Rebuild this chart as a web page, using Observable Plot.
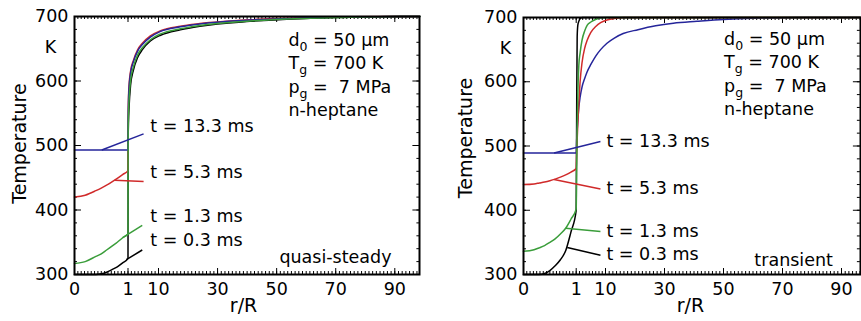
<!DOCTYPE html>
<html><head><meta charset="utf-8">
<script src="https://cdn.jsdelivr.net/npm/d3@7"></script>
<script src="https://cdn.jsdelivr.net/npm/@observablehq/plot@0.6"></script>
<style>
body{margin:0;background:#fff;}
#wrap{display:flex;width:861px;height:321px;overflow:hidden;}
</style></head><body><div id="wrap"></div>
<script>
// ---------- shared ----------
const seriesNames = ["t = 0.3 ms", "t = 1.3 ms", "t = 5.3 ms", "t = 13.3 ms"];
const seriesColors = ["#000000", "#3a9d3a", "#d02a2a", "#25259a"];
const xTickValues = [0, 1, 10, 30, 50, 70, 90];
const yTickValues = [300, 400, 500, 600, 700];
const paramLabels = ["d_0 = 50 µm", "T_g = 700 K", "p_g = \u00a07 MPa", "n-heptane"];

// ---------- quasi-steady panel (left) ----------
const qsRin = [0, 0.2, 0.4, 0.5, 0.6, 0.7, 0.8, 0.9, 1];
const qsTinBlack = [300, 300, 300, 301, 303.5, 307.5, 312, 318, 325];
const qsTinGreen = [317, 320, 328, 332, 338, 344, 350, 357, 363];
const qsTinRed   = [420, 423, 430, 434, 438.5, 443.5, 449, 455, 461];
const qsTinBlue  = [493, 493, 493, 493, 493, 493, 493, 493, 493];
const qsRout = [1.05, 1.15, 1.3, 1.75, 2.6, 3.8, 5.3, 7.6, 10.7, 17.4, 24, 41, 58, 75, 92, 98.5];
const qsToutBlack = [510, 538, 558, 593, 617, 636, 649, 662, 671, 679.5, 685, 692.5, 696.7, 699, 700, 700];
const qsToutGreen = [520, 550, 570, 601, 622, 640, 652, 664, 673, 681, 686, 693, 697, 699, 700, 700];
const qsToutRed   = [545, 575, 592, 615, 632, 648, 659, 670, 678, 685, 689, 695, 698, 699.5, 700, 700];
const qsToutBlue  = [540, 570, 588, 612, 630, 646, 657, 668, 677, 684, 688.5, 694.5, 697.8, 699.3, 700, 700];
const qsLeadR1 = [0.97, 0.9, 0.75, 0.51];
const qsLeadT1 = [323, 357, 446, 493];
const qsLeadR2 = [5.2, 5.2, 5.6, 5.6];
const qsLeadT2 = [338, 376, 444, 518];
const qsLabelR = [7.6, 7.6, 7.6, 7.6];
const qsLabelT = [353, 390, 458, 529.5];

// ---------- transient panel (right) ----------
const trRin = [0, 0.2, 0.3, 0.4, 0.5, 0.6, 0.7, 0.8, 0.9, 1];
const trTinBlack = [300, 300, 300, 301.5, 306, 313.5, 323, 337, 366, 400];
const trTinGreen = [336, 338.5, 341.5, 345, 350, 355.5, 363, 372, 386, 402];
const trTinRed   = [440, 441, 442.5, 444, 446, 448.5, 451.5, 455, 459.5, 465];
const trTinBlue  = [489, 489, 489, 489, 489, 489, 489, 489, 489, 489];
const trRout = [1.15, 1.3, 1.5, 1.8, 2.2, 2.8, 3.6, 4.4, 5.5, 7, 8.5, 10.5, 13, 16, 21, 27, 33, 41, 50, 60, 75, 96.4];
const trToutBlack = [560, 670, 688, 694, 698, 700, 700, 700, 700, 700, 700, 700, 700, 700, 700, 700, 700, 700, 700, 700, 700, 700];
const trToutGreen = [470, 530, 580, 625, 645, 665, 679, 688, 693, 697, 699.5, 700, 700, 700, 700, 700, 700, 700, 700, 700, 700, 700];
const trToutRed   = [490, 510, 535, 565, 600, 630, 652, 665, 677, 686, 692, 696, 698.5, 700, 700, 700, 700, 700, 700, 700, 700, 700];
const trToutBlue  = [510, 525, 540, 560, 576, 592, 605, 616, 627, 640, 650, 660, 668, 675, 681, 687, 691, 694, 697, 699, 700, 700];
const trLeadR1 = [0.83, 0.8, 0.58, 0.58];
const trLeadT1 = [342, 372, 448, 489];
const trLeadR2 = [8.45, 8.45, 8.45, 8.45];
const trLeadT2 = [330, 367, 433, 507];
const trLabelR = [10.3, 10.3, 10.3, 10.3];
const trLabelT = [331, 367, 434, 507];

// ---------- build ----------
function buildRows(rin, tins, rout, touts, order) {
  const rows = [];
  for (const s of order) {
    rin.forEach((r, i) => rows.push({s, r, T: tins[s][i]}));
    rout.forEach((r, i) => rows.push({s, r, T: touts[s][i]}));
  }
  return rows;
}

function addSubscripts(svg) {
  svg.querySelectorAll("text").forEach(t => {
    const s = t.textContent;
    const m = s.match(/^(.*?)_(.)(.*)$/);
    if (!m) return;
    t.textContent = "";
    const mk = (txt, attrs) => {
      const ts = document.createElementNS("http://www.w3.org/2000/svg", "tspan");
      ts.textContent = txt;
      for (const k in attrs) ts.setAttribute(k, attrs[k]);
      t.appendChild(ts);
    };
    mk(m[1], {});
    mk(m[2], {dy: "5", "font-size": "12.5px"});
    mk(m[3], {dy: "-5"});
  });
}

function panel(cfg) {
  const rows = buildRows(cfg.rin, cfg.tins, cfg.rout, cfg.touts, cfg.order);
  const idx = [0, 1, 2, 3];
  const xMinor = [...d3.range(0, 1, 1 / 16), ...d3.range(1, 10, 1), ...d3.range(10, cfg.xMax, 1.25)];
  const yMinor = d3.range(300, 701, 20);
  const yPx = 258 / 400; // px per K (for tick lengths)
  const svg = Plot.plot({
    width: cfg.width, height: 321,
    marginLeft: cfg.mL, marginRight: cfg.mR, marginTop: cfg.mT, marginBottom: 47,
    style: {fontFamily: "'DejaVu Sans', sans-serif", fontSize: "17.5px", color: "black", background: "white", overflow: "visible"},
    x: {type: "linear", domain: [0, 1, 10, 90], range: cfg.xRange},
    y: {domain: [300, 700], range: [274, cfg.mT]},
    color: {domain: idx, range: seriesColors},
    marks: [
      // minor/major ticks (inward) on all four sides
      Plot.ruleX(xMinor, {x: d => d, y1: 300, y2: 300 + 3 / yPx, stroke: "black", strokeWidth: 1}),
      Plot.ruleX(xMinor, {x: d => d, y1: 700, y2: 700 - 3 / yPx, stroke: "black", strokeWidth: 1}),
      Plot.ruleX(xTickValues, {x: d => d, y1: 300, y2: 300 + 6 / yPx, stroke: "black", strokeWidth: 1}),
      Plot.ruleX(xTickValues, {x: d => d, y1: 700, y2: 700 - 6 / yPx, stroke: "black", strokeWidth: 1}),
      Plot.ruleY(yMinor, {y: d => d, x1: 0, x2: 3 / cfg.inPx, stroke: "black", strokeWidth: 1}),
      Plot.ruleY(yTickValues, {y: d => d, x1: 0, x2: 7 / cfg.inPx, stroke: "black", strokeWidth: 1}),
      Plot.ruleY(yMinor, {y: d => d, x1: cfg.xMax - 3 / 2.95, x2: cfg.xMax, stroke: "black", strokeWidth: 1}),
      Plot.ruleY(yTickValues, {y: d => d, x1: cfg.xMax - 7 / 2.95, x2: cfg.xMax, stroke: "black", strokeWidth: 1}),
      // curves
      Plot.line(rows, {x: "r", y: "T", z: "s", stroke: d => d.s, strokeWidth: 1.5, strokeLinejoin: "round", curve: "monotone-x", sort: null}),
      // leader lines
      Plot.link(idx, {x1: i => cfg.leadR1[i], y1: i => cfg.leadT1[i], x2: i => cfg.leadR2[i], y2: i => cfg.leadT2[i], stroke: i => i, strokeWidth: 1.5}),
      // series labels
      Plot.text(idx, {x: i => cfg.labelR[i], y: i => cfg.labelT[i], text: i => seriesNames[i], textAnchor: "start", lineAnchor: "middle"}),
      // parameter block
      Plot.text([0, 1, 2, 3], {x: () => cfg.paramR, y: i => cfg.paramT[i], text: i => paramLabels[i], textAnchor: "start", lineAnchor: "middle"}),
      Plot.text([cfg.corner], {x: cfg.cornerR, y: cfg.cornerT, text: d => d, textAnchor: "end", lineAnchor: "middle"}),
      Plot.text(["K"], {x: cfg.kR, y: 652, text: d => d, textAnchor: "middle", lineAnchor: "middle"}),
      Plot.text(["Temperature"], {x: cfg.tempR, y: cfg.tempT, text: d => d, rotate: -90, textAnchor: "middle", lineAnchor: "middle", fontSize: 19}),
      Plot.text(["r/R"], {x: 38.8, y: 251, text: d => d, textAnchor: "middle", lineAnchor: "middle", fontSize: 19}),
      Plot.frame({stroke: "black", strokeWidth: 2}),
      Plot.axisX({ticks: xTickValues, tickSize: 0, tickPadding: 8, label: null, tickFormat: d => String(d)}),
      Plot.axisY({ticks: yTickValues, tickSize: 0, tickPadding: 6, label: null, tickFormat: d => String(d)})
    ]
  });
  addSubscripts(svg);
  return svg;
}

const wrap = document.getElementById("wrap");
wrap.appendChild(panel({
  width: 430, mL: 74, mR: 11, mT: 16, xRange: [74, 127.5, 158, 394.3], xMax: 98.5, inPx: 53.5,
  rin: qsRin, rout: qsRout,
  tins: [qsTinBlack, qsTinGreen, qsTinRed, qsTinBlue],
  touts: [qsToutBlack, qsToutGreen, qsToutRed, qsToutBlue],
  order: [0, 2, 3, 1],
  leadR1: qsLeadR1, leadT1: qsLeadT1, leadR2: qsLeadR2, leadT2: qsLeadT2,
  labelR: qsLabelR, labelT: qsLabelT,
  paramR: 54, paramT: [662.8, 628, 590.7, 554],
  corner: "quasi-steady", cornerR: 88.9, cornerT: 326,
  kR: -0.45, tempR: -1.02, tempT: 503
}));
wrap.appendChild(panel({
  width: 431, mL: 93, mR: 1, mT: 17, xRange: [93, 145.7, 175, 411], xMax: 96.4, inPx: 52.7,
  rin: trRin, rout: trRout,
  tins: [trTinBlack, trTinGreen, trTinRed, trTinBlue],
  touts: [trToutBlack, trToutGreen, trToutRed, trToutBlue],
  order: [0, 3, 2, 1],
  leadR1: trLeadR1, leadT1: trLeadT1, leadR2: trLeadR2, leadT2: trLeadT2,
  labelR: trLabelR, labelT: trLabelT,
  paramR: 50.2, paramT: [666.5, 630.7, 592, 557],
  corner: "transient", cornerR: 87.1, cornerT: 322.6,
  kR: -0.34, tempR: -1.085, tempT: 512.5
}));
</script>
</body></html>
